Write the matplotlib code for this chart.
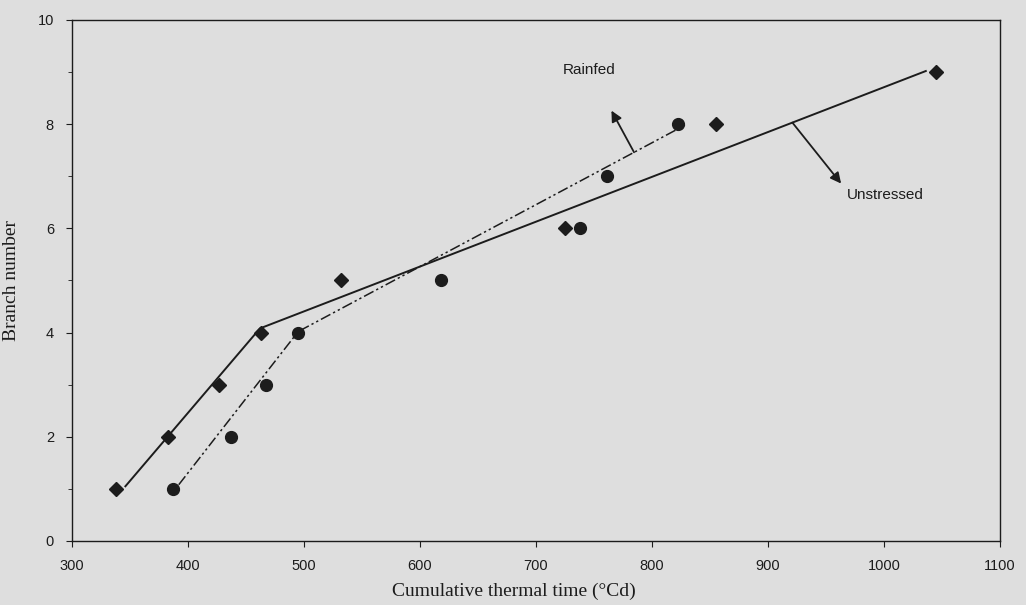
import numpy as np
import matplotlib.pyplot as plt
from matplotlib.ticker import MultipleLocator

# observed branch numbers
unstressed_tt = [338, 383, 427, 463, 532, 725, 855, 1045]
unstressed_bn = [1, 2, 3, 4, 5, 6, 8, 9]
rainfed_tt = [387, 437, 467, 495, 618, 738, 761, 822]
rainfed_bn = [1, 2, 3, 4, 5, 6, 7, 8]

# fitted broken-line relations (ends and break point)
unstressed_fit_tt = [346, 462, 1036]
unstressed_fit_bn = [1.05, 4.08, 9.02]
rainfed_fit_tt = [392, 495, 830]
rainfed_fit_bn = [1.08, 4.02, 8.0]

bg = "#dedede"
ink = "#1c1c1c"
sans = ["Liberation Sans", "DejaVu Sans"]
serif = ["Liberation Serif", "DejaVu Serif"]

fig = plt.figure(figsize=(10.26, 6.05), dpi=100, facecolor=bg)
ax = fig.add_axes([0.0702, 0.1058, 0.9045, 0.8612], facecolor=bg)

ax.plot(unstressed_fit_tt, unstressed_fit_bn, color=ink, lw=1.4)
ax.plot(rainfed_fit_tt, rainfed_fit_bn, color=ink, lw=1.1,
        dashes=(7, 2, 1.5, 2, 1.5, 2))
ax.plot(unstressed_tt, unstressed_bn, "D", color=ink, ms=7, ls="none")
ax.plot(rainfed_tt, rainfed_bn, "o", color=ink, ms=8.5, ls="none")

arrow = dict(arrowstyle="-|>", color=ink, lw=1.3, mutation_scale=16,
             shrinkA=0, shrinkB=0)
ax.annotate("", xy=(765, 8.26), xytext=(784.5, 7.46), arrowprops=arrow)
ax.annotate("", xy=(963, 6.86), xytext=(921, 8.03), arrowprops=arrow)
ax.text(746, 9.04, "Rainfed", family=sans, fontsize=11, color=ink,
        ha="center", va="center")
ax.text(1001, 6.65, "Unstressed", family=sans, fontsize=11, color=ink,
        ha="center", va="center")

ax.set_xlim(300, 1100)
ax.set_ylim(0, 10)
ax.xaxis.set_major_locator(MultipleLocator(100))
ax.yaxis.set_major_locator(MultipleLocator(2))
ax.yaxis.set_minor_locator(MultipleLocator(1))
ax.tick_params(axis="x", direction="out", length=4, pad=9, labelsize=10.5,
               colors=ink)
ax.tick_params(axis="y", which="major", direction="out", length=4, pad=9,
               labelsize=10.5, colors=ink)
ax.tick_params(axis="y", which="minor", direction="out", length=3, colors=ink)
for lab in ax.get_xticklabels() + ax.get_yticklabels():
    lab.set_family(sans)
for sp in ax.spines.values():
    sp.set_color(ink)
    sp.set_linewidth(1.0)

ax.set_xlabel("Cumulative thermal time (°Cd)", family=serif, fontsize=14,
              color=ink)
ax.set_ylabel("Branch number", family=serif, fontsize=14, color=ink)
ax.xaxis.set_label_coords(0.476, -0.080)
ax.yaxis.set_label_coords(-0.056, 0.5)

fig.savefig("out.png", dpi=100, facecolor=bg)
